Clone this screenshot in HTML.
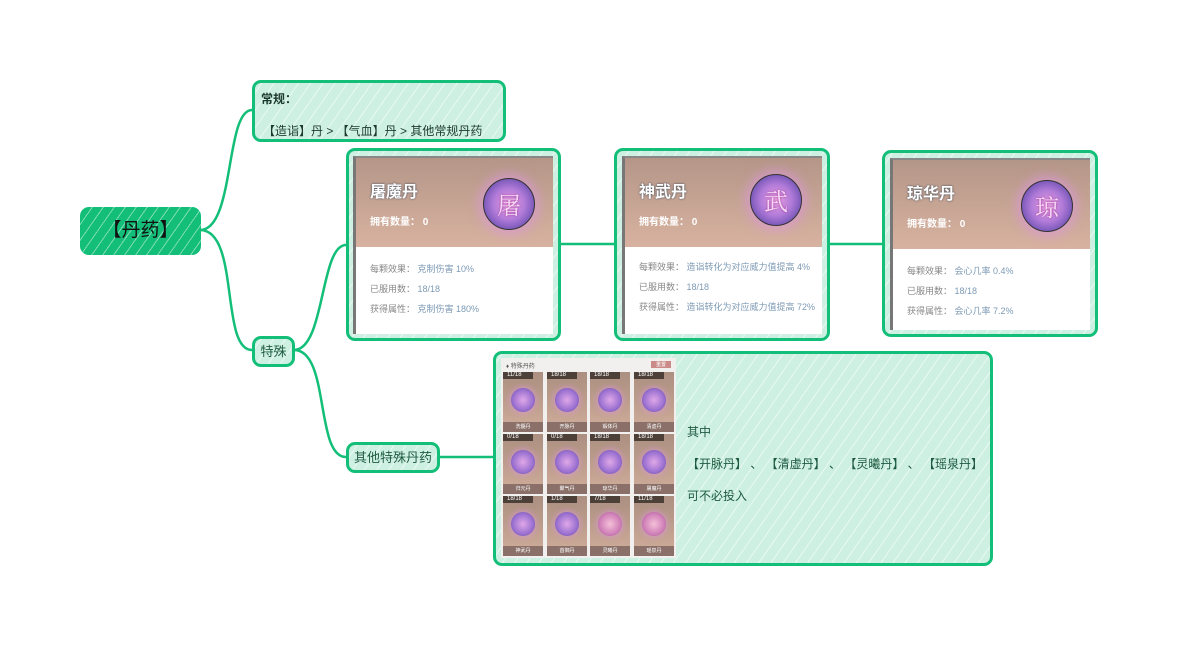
<!DOCTYPE html>
<html><head><meta charset="utf-8"><style>
*{margin:0;padding:0;box-sizing:border-box}
body{width:1178px;height:647px;background:#fff;position:relative;overflow:hidden;font-family:"Liberation Sans","Noto Sans CJK SC",sans-serif}
.a{position:absolute}
.lb{background:#cdf0e2 repeating-linear-gradient(-55deg,rgba(255,255,255,0) 0 9px,rgba(255,255,255,.55) 9px 10px);border:3px solid #13bf78;border-radius:9px}
.card{background:#fff;overflow:hidden;border-left:3px solid #777;border-top:2px solid #888}
.hd{position:absolute;left:0;top:0;right:0;height:89px;background:linear-gradient(180deg,#b49688,#d8b2a0)}
.tt{position:absolute;left:14px;top:20px;font-size:16px;font-weight:bold;color:#fff;text-shadow:0 0 2px #345}
.own{position:absolute;left:14px;top:55px;font-size:10px;font-weight:bold;color:#fff}
.orb{position:absolute;width:52px;height:52px;border-radius:50%;background:radial-gradient(circle at 50% 50%,#e9a0e0 0,#b07ad8 45%,#6a4fb0 80%,#3a2a60 100%);border:1px solid #333;box-shadow:0 0 10px 5px rgba(220,150,220,.6);color:#f6d8f6;font-size:24px;text-align:center;line-height:50px;font-family:"Noto Serif CJK SC",serif;text-shadow:0 0 2px #a03090}
.ln{position:absolute;left:14px;font-size:9px;color:#888}
.ln b{font-weight:normal;color:#7d9ab5}
.cell{position:absolute;width:40px;height:60px;background:linear-gradient(180deg,#ab8f80,#d1ad9b);}
.cell .n{position:absolute;left:0;top:0;width:30px;height:7px;background:#4d4038;color:#fff;font-size:6px;line-height:7px;padding-left:4px}
.cell .p{position:absolute;left:8px;top:16px;width:24px;height:24px;border-radius:50%;background:radial-gradient(circle,#e0a8e8,#9a70d0 60%,#5b44a0);box-shadow:0 0 5px 2px rgba(220,150,220,.5)}
.cell .f{position:absolute;left:0;bottom:0;width:40px;height:10px;background:#8a7068;color:#fff;font-size:5px;line-height:10px;text-align:center}
</style></head><body>
<svg class="a" style="left:0;top:0" width="1178" height="647">
<g fill="none" stroke="#13bf78" stroke-width="2.5">
<path d="M200 230 C235 230 225 110 252 110"/>
<path d="M200 230 C240 230 220 350 252 350"/>
<path d="M294 350 C325 350 320 245 346 245"/>
<path d="M294 350 C330 350 315 457 346 457"/>
<path d="M439 457 L493 457"/>
<path d="M560 244 L614 244"/>
<path d="M829 244 L882 244"/>
</g></svg>

<div class="a" style="left:80px;top:207px;width:121px;height:48px;border-radius:9px;background:#13bf78 repeating-linear-gradient(-55deg,rgba(255,255,255,0) 0 8px,rgba(255,255,255,.45) 8px 9px);font-size:19px;color:#111;text-align:center;line-height:48px">【丹药】</div>

<div class="a lb" style="left:252px;top:80px;width:254px;height:62px"></div>
<div class="a" style="left:261px;top:90px;font-size:12px;font-weight:bold;color:#1b3a2c">常规：</div>
<div class="a" style="left:263px;top:122px;font-size:12px;color:#1b3a2c">【造诣】丹 &gt; 【气血】丹 &gt; 其他常规丹药</div>

<div class="a lb" style="left:252px;top:336px;width:43px;height:31px;font-size:13px;color:#1e5a40;text-align:center;line-height:25px">特殊</div>
<div class="a lb" style="left:346px;top:442px;width:94px;height:31px;font-size:13px;color:#1e5a40;text-align:center;line-height:25px">其他特殊丹药</div>

<div class="a lb" style="left:346px;top:148px;width:215px;height:193px"></div>
<div class="a card" style="left:353px;top:156px;width:200px;height:178px">
<div class="hd"></div><div class="tt">屠魔丹</div><div class="own">拥有数量： 0</div>
<div class="orb" style="left:127px;top:20px">屠</div>
<div class="ln" style="top:104px">每颗效果： <b>克制伤害 10%</b></div>
<div class="ln" style="top:124px">已服用数： <b>18/18</b></div>
<div class="ln" style="top:144px">获得属性： <b>克制伤害 180%</b></div>
</div>
<div class="a lb" style="left:614px;top:148px;width:216px;height:193px"></div>
<div class="a card" style="left:622px;top:156px;width:200px;height:178px">
<div class="hd"></div><div class="tt">神武丹</div><div class="own">拥有数量： 0</div>
<div class="orb" style="left:125px;top:16px">武</div>
<div class="ln" style="top:102px">每颗效果： <b>造诣转化为对应威力值提高 4%</b></div>
<div class="ln" style="top:122px">已服用数： <b>18/18</b></div>
<div class="ln" style="top:142px">获得属性： <b>造诣转化为对应威力值提高 72%</b></div>
</div>
<div class="a lb" style="left:882px;top:150px;width:216px;height:187px"></div>
<div class="a card" style="left:890px;top:158px;width:200px;height:172px">
<div class="hd"></div><div class="tt">琼华丹</div><div class="own">拥有数量： 0</div>
<div class="orb" style="left:128px;top:20px">琼</div>
<div class="ln" style="top:104px">每颗效果： <b>会心几率 0.4%</b></div>
<div class="ln" style="top:124px">已服用数： <b>18/18</b></div>
<div class="ln" style="top:144px">获得属性： <b>会心几率 7.2%</b></div>
</div>

<div class="a lb" style="left:493px;top:351px;width:500px;height:215px"></div>
<div class="a" style="left:501px;top:358px;width:175px;height:200px;background:#f2f0ee">
<div class="a" style="left:5px;top:3px;font-size:6px;color:#555">♦ 特殊丹药</div>
<div class="a" style="left:150px;top:3px;width:20px;height:7px;background:#c98a88;color:#fff;font-size:5px;text-align:center">重置</div>
<div class="cell" style="left:2px;top:14px"><div class="n">11/18</div><div class="p"></div><div class="f">洗髓丹</div></div>
<div class="cell" style="left:46px;top:14px"><div class="n">18/18</div><div class="p"></div><div class="f">开脉丹</div></div>
<div class="cell" style="left:89px;top:14px"><div class="n">18/18</div><div class="p"></div><div class="f">锻体丹</div></div>
<div class="cell" style="left:133px;top:14px"><div class="n">18/18</div><div class="p"></div><div class="f">清虚丹</div></div>
<div class="cell" style="left:2px;top:76px"><div class="n">0/18</div><div class="p"></div><div class="f">归元丹</div></div>
<div class="cell" style="left:46px;top:76px"><div class="n">0/18</div><div class="p"></div><div class="f">聚气丹</div></div>
<div class="cell" style="left:89px;top:76px"><div class="n">18/18</div><div class="p"></div><div class="f">琼华丹</div></div>
<div class="cell" style="left:133px;top:76px"><div class="n">18/18</div><div class="p"></div><div class="f">屠魔丹</div></div>
<div class="cell" style="left:2px;top:138px"><div class="n">18/18</div><div class="p"></div><div class="f">神武丹</div></div>
<div class="cell" style="left:46px;top:138px"><div class="n">1/18</div><div class="p"></div><div class="f">首御丹</div></div>
<div class="cell" style="left:89px;top:138px"><div class="n">7/18</div><div class="p" style="background:radial-gradient(circle,#f4c0d8,#d080b8 60%,#a05090)"></div><div class="f">灵曦丹</div></div>
<div class="cell" style="left:133px;top:138px"><div class="n">11/18</div><div class="p" style="background:radial-gradient(circle,#f4c0d8,#d080b8 60%,#a05090)"></div><div class="f">瑶泉丹</div></div>
</div>
<div class="a" style="left:687px;top:423px;font-size:12px;color:#1e5a40">其中</div>
<div class="a" style="left:687px;top:455px;font-size:12px;color:#1e5a40;white-space:pre">【开脉丹】 、 【清虚丹】 、 【灵曦丹】 、 【瑶泉丹】</div>
<div class="a" style="left:687px;top:487px;font-size:12px;color:#1e5a40">可不必投入</div>
</body></html>
